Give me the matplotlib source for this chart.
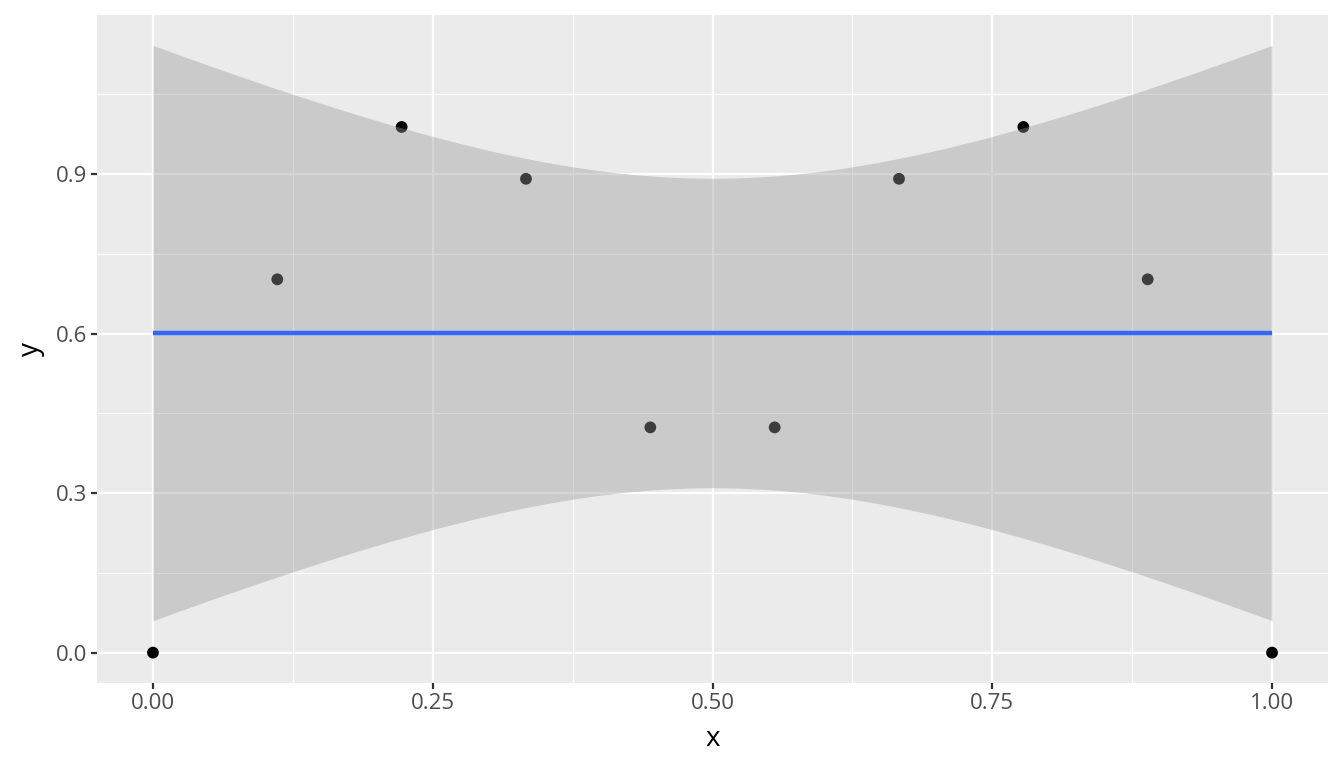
import numpy as np
import matplotlib
matplotlib.use('Agg')
import matplotlib.pyplot as plt

# data
x = np.arange(10) / 9
y = np.array([0.0, 0.702, 0.9885, 0.891, 0.4236, 0.4236, 0.891, 0.9885, 0.702, 0.0])

xTicks = [0.0, 0.25, 0.5, 0.75, 1.0]
xTickLabels = ['0.00', '0.25', '0.50', '0.75', '1.00']
yTicks = [0.0, 0.3, 0.6, 0.9]
yTickLabels = ['0.0', '0.3', '0.6', '0.9']

# linear fit with 95% confidence band (like geom_smooth(method = "lm"))
n = x.size
slope, intercept = np.polyfit(x, y, 1)
xs = np.linspace(0, 1, 200)
fit = intercept + slope * xs
resid = y - (intercept + slope * x)
s = np.sqrt(np.sum(resid ** 2) / (n - 2))
sxx = np.sum((x - x.mean()) ** 2)
tCrit = 2.306004  # t(0.975, df = 8)
half = tCrit * s * np.sqrt(1 / n + (xs - x.mean()) ** 2 / sxx)
lo, hi = fit - half, fit + half

plt.rcParams['font.family'] = ['Open Sans', 'DejaVu Sans']

fig = plt.figure(figsize=(13.44, 7.68), dpi=100)
ax = fig.add_axes([97 / 1344, 1 - 683 / 768, (1328 - 97) / 1344, (683 - 15) / 768])
ax.set_facecolor('#EBEBEB')

# grid
for v in [0.125, 0.375, 0.625, 0.875]:
    ax.axvline(v, color='white', lw=0.8, zorder=0)
for v in [0.15, 0.45, 0.75, 1.05]:
    ax.axhline(v, color='white', lw=0.8, zorder=0)
for v in xTicks:
    ax.axvline(v, color='white', lw=1.6, zorder=0)
for v in yTicks:
    ax.axhline(v, color='white', lw=1.6, zorder=0)

ax.scatter(x, y, s=72, color='black', edgecolors='none', zorder=2)
ax.fill_between(xs, lo, hi, color='#999999', alpha=0.4, lw=0, zorder=3)
ax.plot(xs, fit, color='#3366FF', lw=3.2, zorder=4, solid_capstyle='butt')

yMin = min(lo.min(), y.min())
yMax = max(hi.max(), y.max())
pad = (yMax - yMin) * 0.05
ax.set_ylim(yMin - pad, yMax + pad)
ax.set_xlim(-0.05, 1.05)

ax.set_xticks(xTicks)
ax.set_xticklabels(xTickLabels)
ax.set_yticks(yTicks)
ax.set_yticklabels(yTickLabels)
ax.tick_params(length=4.1, width=1.6, color='#333333', labelcolor='#4D4D4D',
               labelsize=16, pad=3)
for sp in ax.spines.values():
    sp.set_visible(False)

ax.set_xlabel('x', fontsize=20, color='black', labelpad=8)
ax.set_ylabel('y', fontsize=20, color='black', labelpad=8)

fig.savefig('out.png', dpi=100)
